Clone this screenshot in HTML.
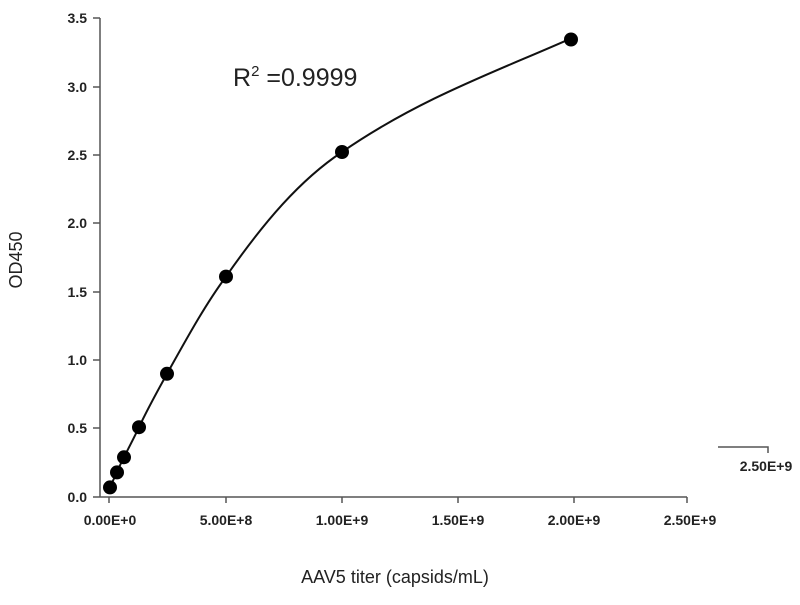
<!DOCTYPE html>
<html><head><style>
body{margin:0;background:#fff;}
svg text{font-family:"Liberation Sans",Arial,sans-serif;}
</style></head><body>
<svg width="800" height="600" viewBox="0 0 800 600" xmlns="http://www.w3.org/2000/svg">
<g stroke="#555" stroke-width="1.5" fill="none">
<line x1="100" y1="18" x2="100" y2="497"/>
<line x1="100" y1="497" x2="687" y2="497"/>
<line x1="93" y1="18" x2="100" y2="18"/>
<line x1="93" y1="87" x2="100" y2="87"/>
<line x1="93" y1="155" x2="100" y2="155"/>
<line x1="93" y1="223" x2="100" y2="223"/>
<line x1="93" y1="292" x2="100" y2="292"/>
<line x1="93" y1="360" x2="100" y2="360"/>
<line x1="93" y1="428" x2="100" y2="428"/>
<line x1="93" y1="497" x2="100" y2="497"/>
<line x1="109" y1="497" x2="109" y2="503"/>
<line x1="226" y1="497" x2="226" y2="503"/>
<line x1="342" y1="497" x2="342" y2="503"/>
<line x1="458" y1="497" x2="458" y2="503"/>
<line x1="574" y1="497" x2="574" y2="503"/>
<line x1="687" y1="497" x2="687" y2="503"/>
<polyline points="718,447 768,447 768,453"/>
</g>
<g font-size="14" font-weight="bold" fill="#222" text-anchor="end">
<text x="87" y="23">3.5</text>
<text x="87" y="92">3.0</text>
<text x="87" y="160">2.5</text>
<text x="87" y="228">2.0</text>
<text x="87" y="297">1.5</text>
<text x="87" y="365">1.0</text>
<text x="87" y="433">0.5</text>
<text x="87" y="502">0.0</text>
</g>
<g font-size="14" font-weight="bold" fill="#222" text-anchor="middle">
<text x="110" y="525">0.00E+0</text>
<text x="226" y="525">5.00E+8</text>
<text x="342" y="525">1.00E+9</text>
<text x="458" y="525">1.50E+9</text>
<text x="574" y="525">2.00E+9</text>
<text x="690" y="525">2.50E+9</text>
<text x="766" y="471">2.50E+9</text>
</g>
<text x="395" y="583" font-size="18" text-anchor="middle" fill="#222">AAV5 titer (capsids/mL)</text>
<text transform="translate(22,260) rotate(-90)" font-size="18" text-anchor="middle" fill="#222">OD450</text>
<text x="233" y="86" font-size="25" fill="#222">R<tspan font-size="15" dy="-10">2</tspan><tspan dy="10"> =0.9999</tspan></text>
<path d="M110,487.4 C112,482 115,477 117,472.4 C119,467 121,463 124,457.3 C129,447 134,438 139,427.2 C148,408 157,392 167,373.8 C187,338 205,305 226,276.6 C264,222 300,180 342,152 C420,98 500,70 571,38.4" fill="none" stroke="#111" stroke-width="2"/>
<g fill="#000">
<circle cx="110" cy="487.4" r="7"/>
<circle cx="117" cy="472.4" r="7"/>
<circle cx="124" cy="457.3" r="7"/>
<circle cx="139" cy="427.2" r="7"/>
<circle cx="167" cy="373.8" r="7"/>
<circle cx="226" cy="276.6" r="7"/>
<circle cx="342" cy="152" r="7"/>
<circle cx="571" cy="39.5" r="7"/>
</g>
</svg>
</body></html>
